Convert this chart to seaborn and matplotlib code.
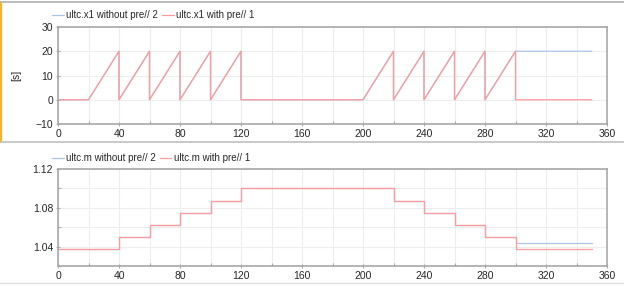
import numpy as np
import pandas as pd
import matplotlib
matplotlib.use("Agg")
import matplotlib.pyplot as plt
from matplotlib.lines import Line2D
from matplotlib.ticker import MultipleLocator
import seaborn as sns

# ---- data ----
x1_t_with = [0, 20, 40, 40, 60, 60, 80, 80, 100, 100, 120, 120, 200, 220, 220,
             240, 240, 260, 260, 280, 280, 300, 300, 350]
x1_v_with = [0, 0, 20, 0, 20, 0, 20, 0, 20, 0, 20, 0, 0, 20, 0,
             20, 0, 20, 0, 20, 0, 20, 0, 0]
x1_t_without = [0, 20, 40, 40, 60, 60, 80, 80, 100, 100, 120, 120, 200, 220, 220,
                240, 240, 260, 260, 280, 280, 300, 350]
x1_v_without = [0, 0, 20, 0, 20, 0, 20, 0, 20, 0, 20, 0, 0, 20, 0,
                20, 0, 20, 0, 20, 0, 20, 20]

m_t = [0, 40, 60, 80, 100, 120, 220, 240, 260, 280, 300, 350]
m_with = [1.0375, 1.05, 1.0625, 1.075, 1.0875, 1.1, 1.0875, 1.075, 1.0625, 1.05, 1.0375, 1.0375]
m_without = [1.0375, 1.05, 1.0625, 1.075, 1.0875, 1.1, 1.0875, 1.075, 1.0625, 1.05, 1.04375, 1.04375]

labels_top = ["ultc.x1 without pre// 2", "ultc.x1 with pre// 1"]
labels_bot = ["ultc.m without pre// 2", "ultc.m with pre// 1"]

BLUE = "#a9c6ea"
RED = "#ff9a9a"
SPINE = "#a8a8a8"
GRID = "#ededed"

sns.set_theme(style="white")
plt.rcParams["font.family"] = ["Liberation Sans", "DejaVu Sans"]

W, H = 624, 286
fig = plt.figure(figsize=(W / 100, H / 100), dpi=100)

def ax_rect(l, r, t, b):
    return [l / W, 1 - b / H, (r - l) / W, (b - t) / H]

ax1 = fig.add_axes(ax_rect(58, 607, 27, 124))
ax2 = fig.add_axes(ax_rect(58, 607, 169, 266))

sns.lineplot(x=x1_t_without, y=x1_v_without, ax=ax1, color=BLUE, lw=0.9,
             sort=False, estimator=None, label=labels_top[0])
sns.lineplot(x=x1_t_with, y=x1_v_with, ax=ax1, color=RED, lw=0.9,
             sort=False, estimator=None, label=labels_top[1])

sns.lineplot(x=m_t, y=m_without, ax=ax2, color=BLUE, lw=0.9,
             sort=False, estimator=None, drawstyle="steps-post", label=labels_bot[0])
sns.lineplot(x=m_t, y=m_with, ax=ax2, color=RED, lw=0.9,
             sort=False, estimator=None, drawstyle="steps-post", label=labels_bot[1])

ax1.set_xlim(0, 360)
ax1.set_ylim(-10, 30)
ax1.yaxis.set_major_locator(MultipleLocator(10))
ax2.set_xlim(0, 360)
ax2.set_ylim(1.02, 1.12)
ax2.yaxis.set_major_locator(MultipleLocator(0.04))
ax2.yaxis.set_minor_locator(MultipleLocator(0.02))
ax2.yaxis.set_major_formatter(matplotlib.ticker.FuncFormatter(lambda v, p: f"{v:.2f}"))
ax1.set_ylabel("[s]", fontsize=7.5, labelpad=10)

for ax in (ax1, ax2):
    ax.xaxis.set_major_locator(MultipleLocator(40))
    ax.xaxis.set_minor_locator(MultipleLocator(20))
    ax.grid(True, which="both", color=GRID, lw=0.8)
    ax.set_axisbelow(True)
    for s in ax.spines.values():
        s.set_color(SPINE)
        s.set_linewidth(1.2)
    ax.tick_params(axis="both", which="major", labelsize=7.5, length=3, width=0.8,
                   color=SPINE, direction="inout", pad=2, left=True, bottom=True)
    ax.tick_params(axis="both", which="minor", length=2.5, width=0.8, color=SPINE,
                   direction="in", left=True, bottom=True)
    ax.set_xlabel("")

for ax, yc in ((ax1, 15), (ax2, 158)):
    h, l = ax.get_legend_handles_labels()
    ax.legend(h, l, loc="center left", bbox_to_anchor=(52 / W, 1 - yc / H),
              bbox_transform=fig.transFigure, ncol=2, frameon=False, fontsize=7,
              handlelength=1.2, handletextpad=0.25, columnspacing=0.4,
              borderaxespad=0, borderpad=0)

# window framing
fig.add_artist(Line2D([0, 1], [1 - 2 / H, 1 - 2 / H], color="#b0b0b0", lw=1.2, transform=fig.transFigure))
fig.add_artist(Line2D([0, 1], [1 - 142 / H, 1 - 142 / H], color="#c0c0c0", lw=1.2, transform=fig.transFigure))
fig.add_artist(Line2D([0, 1], [1 - 283 / H, 1 - 283 / H], color="#e0e0e0", lw=1.0, transform=fig.transFigure))
fig.add_artist(Line2D([0.8 / W, 0.8 / W], [1 - 3 / H, 1 - 141 / H], color="#f5b335", lw=1.6, transform=fig.transFigure))

fig.savefig("out.png", dpi=100)
